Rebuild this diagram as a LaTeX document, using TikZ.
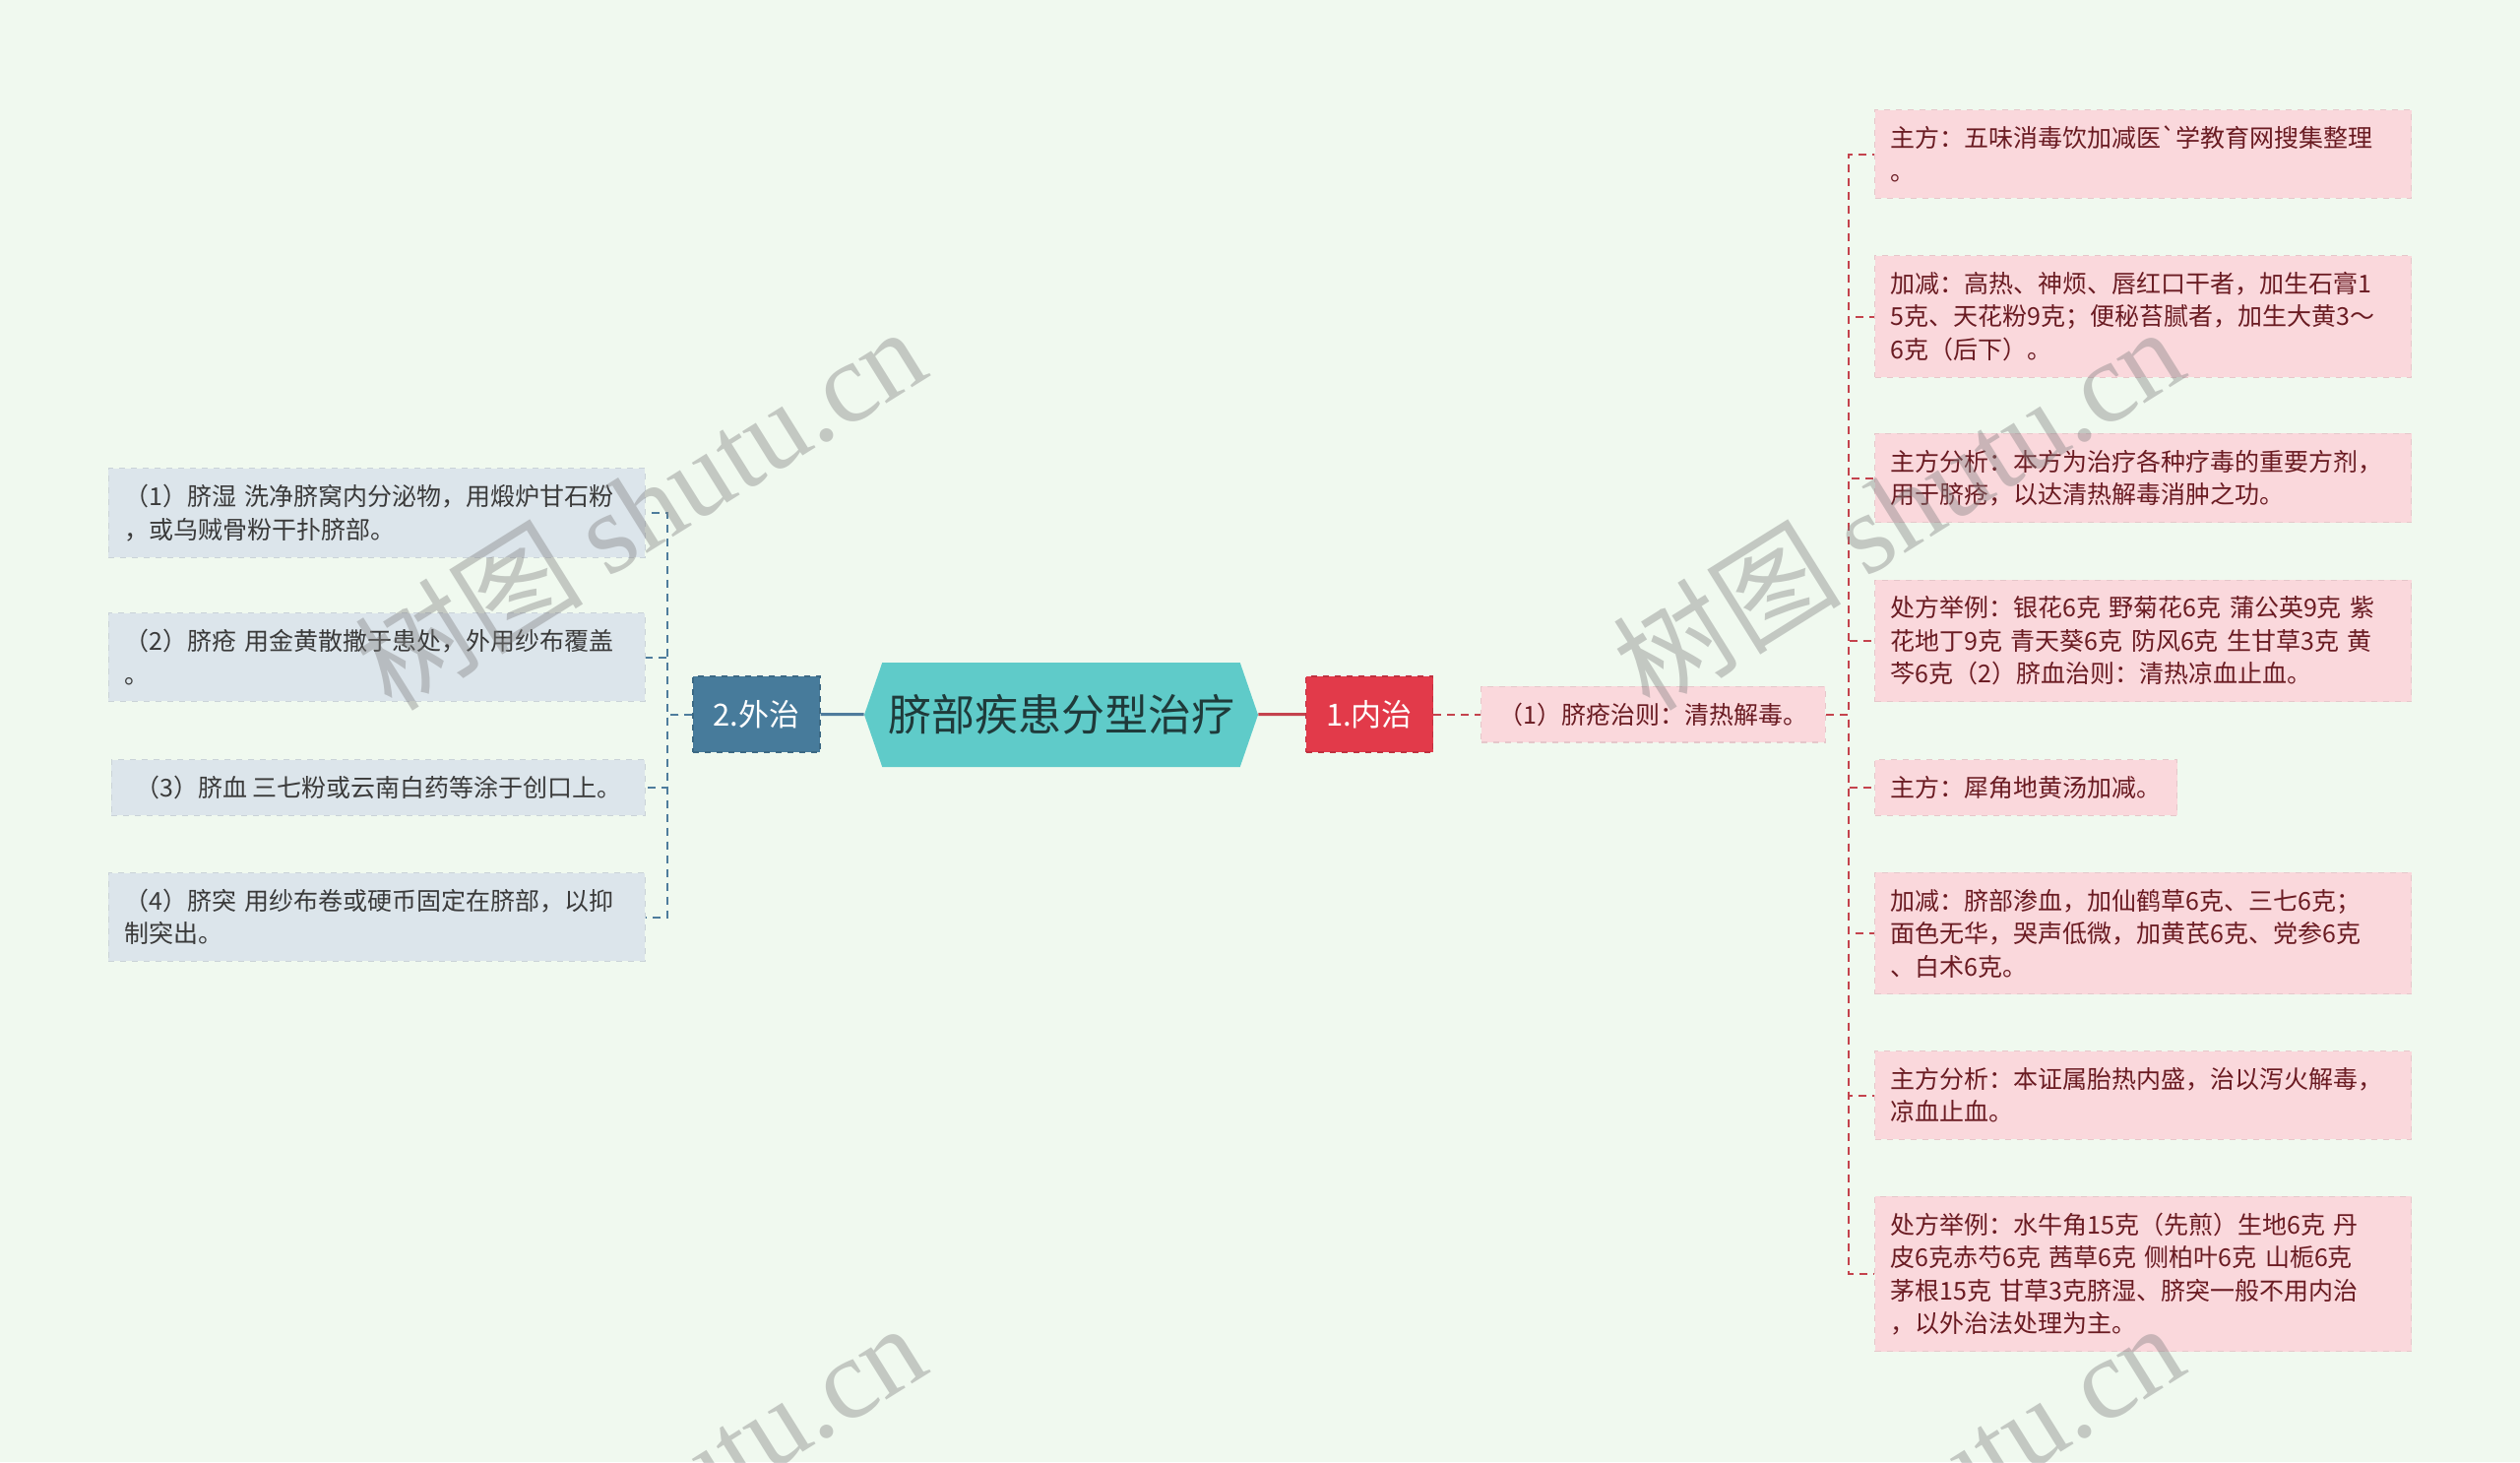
\documentclass[tikz,border=0pt]{standalone}
\usepackage{fontspec}
\setmainfont{Noto Sans CJK SC}
\newfontfamily\wmfont{Liberation Serif}
\usetikzlibrary{shapes.symbols}

\definecolor{bgcol}{HTML}{F0F9EF}
\definecolor{hexfill}{HTML}{5FCBC9}
\definecolor{hextext}{HTML}{1F3A3A}
\definecolor{redcol}{HTML}{E23A4A}
\definecolor{bluecol}{HTML}{477B9B}
\definecolor{rline}{HTML}{C4434D}
\definecolor{lline}{HTML}{4E7C9C}
\definecolor{pinkfill}{HTML}{FAD8DC}
\definecolor{pinktext}{HTML}{6A1B22}
\definecolor{greyfill}{HTML}{DCE5EB}
\definecolor{greytext}{HTML}{3A3A3A}

\begin{document}
\begin{tikzpicture}[
  x=0.5pt, y=-0.5pt,
  root/.style={signal, signal to=west and east, signal pointer angle=142,
    fill=hexfill, minimum width=200pt, minimum height=53pt, inner sep=0pt,
    text=hextext, font=\fontsize{22pt}{26pt}\selectfont},
  mid/.style={draw=#1!85!black, dashed, line width=0.7pt, fill=#1, text=white,
    minimum width=64.5pt, minimum height=38.5pt, inner sep=0pt,
    font=\fontsize{15.5pt}{18pt}\selectfont},
  rbox/.style={draw=pinkfill!92!black, dashed, line width=0.6pt, fill=pinkfill,
    text=pinktext, inner xsep=8pt, inner ysep=8.25pt, align=left, anchor=west,
    font=\fontsize{12.5pt}{16.75pt}\selectfont},
  rleaf/.style={rbox, text width=256.5pt},
  lbox/.style={draw=greyfill!92!black, dashed, line width=0.6pt, fill=greyfill,
    text=greytext, inner xsep=8pt, inner ysep=8.25pt, align=left, anchor=east,
    font=\fontsize{12.5pt}{16.75pt}\selectfont},
  lleaf/.style={lbox, text width=256.5pt},
  redge/.style={draw=rline, line width=1.5pt},
  ledge/.style={draw=lline, line width=1.5pt},
  rdash/.style={draw=rline, line width=1pt, dash pattern=on 4pt off 3pt},
  ldash/.style={draw=lline, line width=1pt, dash pattern=on 4pt off 3pt},
  wm/.style={rotate=32, text=gray, opacity=0.4, font=\fontsize{58pt}{62pt}\selectfont}
]
\fill[bgcol] (0,0) rectangle (2560,1485);
\useasboundingbox (0,0) rectangle (2560,1485);

\node[root] (root) at (1078,726) {脐部疾患分型治疗};
\node[mid=redcol] (nei) at (1391,725.5) {1.内治};
\node[mid=bluecol] (wai) at (768.5,725.5) {2.外治};
\node[rbox, inner xsep=9pt] (jc) at (1504,725.5) {（1）脐疮治则：清热解毒。};

% right side
\node[rleaf] (r1) at (1904,156.5) {主方：五味消毒饮加减医\textasciigrave 学教育网搜集整理\\。};
\node[rleaf] (r2) at (1904,321.5) {加减：高热、神烦、唇红口干者，加生石膏1\\5克、天花粉9克；便秘苔腻者，加生大黄3～\\6克（后下）。};
\node[rleaf] (r3) at (1904,485.5) {主方分析：本方为治疗各种疗毒的重要方剂，\\用于脐疮，以达清热解毒消肿之功。};
\node[rleaf] (r4) at (1904,651) {处方举例：银花6克 野菊花6克 蒲公英9克 紫\\花地丁9克 青天葵6克 防风6克 生甘草3克 黄\\芩6克（2）脐血治则：清热凉血止血。};
\node[rbox] (r5) at (1904,800) {主方：犀角地黄汤加减。};
\node[rleaf] (r6) at (1904,948) {加减：脐部渗血，加仙鹤草6克、三七6克；\\面色无华，哭声低微，加黄芪6克、党参6克\\、白术6克。};
\node[rleaf] (r7) at (1904,1112.5) {主方分析：本证属胎热内盛，治以泻火解毒，\\凉血止血。};
\node[rleaf] (r8) at (1904,1294) {处方举例：水牛角15克（先煎）生地6克 丹\\皮6克赤芍6克 茜草6克 侧柏叶6克 山栀6克\\茅根15克 甘草3克脐湿、脐突一般不用内治\\，以外治法处理为主。};

% left side
\node[lleaf] (l1) at (656,521) {（1）脐湿 洗净脐窝内分泌物，用煅炉甘石粉\\，或乌贼骨粉干扑脐部。};
\node[lleaf] (l2) at (656,667.5) {（2）脐疮 用金黄散撒于患处，外用纱布覆盖\\。};
\node[lbox, minimum width=271pt] (l3) at (656,800) {（3）脐血 三七粉或云南白药等涂于创口上。};
\node[lleaf] (l4) at (656,931.5) {（4）脐突 用纱布卷或硬币固定在脐部，以抑\\制突出。};

\draw[redge] (root) -- (nei);
\draw[ledge] (wai) -- (root);
\draw[rdash] (nei) -- (jc);

\draw[rdash] (jc.east) -- ++(23,0) |- (r1.west);
\draw[rdash] (jc.east) -- ++(23,0) |- (r2.west);
\draw[rdash] (jc.east) -- ++(23,0) |- (r3.west);
\draw[rdash] (jc.east) -- ++(23,0) |- (r4.west);
\draw[rdash] (jc.east) -- ++(23,0) |- (r5.west);
\draw[rdash] (jc.east) -- ++(23,0) |- (r6.west);
\draw[rdash] (jc.east) -- ++(23,0) |- (r7.west);
\draw[rdash] (jc.east) -- ++(23,0) |- (r8.west);

\draw[ldash] (wai.west) -- ++(-25,0) |- (l1.east);
\draw[ldash] (wai.west) -- ++(-25,0) |- (l2.east);
\draw[ldash] (wai.west) -- ++(-25,0) |- (l3.east);
\draw[ldash] (wai.west) -- ++(-25,0) |- (l4.east);

% watermarks
\begin{scope}
\clip (0,0) rectangle (2560,1485);
\node[wm] (wm1) at (650,515) {树图 {\wmfont shutu.cn}};
\node[wm] (wm2) at (1928,515) {树图 {\wmfont shutu.cn}};
\node[wm] (wm3) at (650,1527) {树图 {\wmfont shutu.cn}};
\node[wm] (wm4) at (1928,1527) {树图 {\wmfont shutu.cn}};
\end{scope}
\end{tikzpicture}
\end{document}
